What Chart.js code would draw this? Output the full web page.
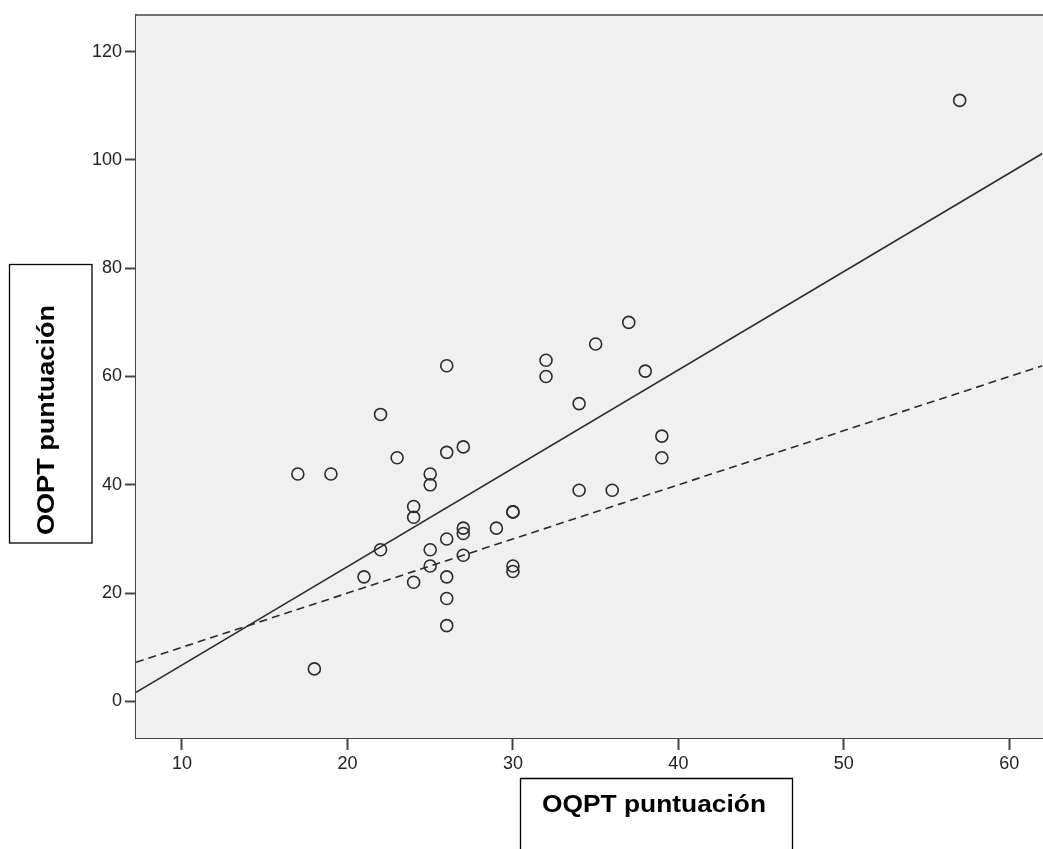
<!DOCTYPE html>
<html>
<head>
<meta charset="utf-8">
<script src="https://cdn.jsdelivr.net/npm/chart.js@4/dist/chart.umd.min.js"></script>
<style>
  html, body { margin: 0; padding: 0; background: #ffffff; overflow: hidden; }
  #wrap { position: relative; width: 1050px; height: 849px; }
</style>
</head>
<body>
<div id="wrap"><canvas id="c"></canvas></div>
<script>
// ---- data ----
const oqptScores = [17,19,22,23,26,26,27,25,25,24,24,22,21,18,24,25,25,26,26,26,26,27,27,27,29,30,30,30,30,32,32,34,34,35,37,38,36,39,39,57];
const ooptScores = [42,42,53,45,62,46,47,42,40,36,34,28,23,6,22,28,25,30,23,19,14,32,31,27,32,35,35,25,24,63,60,39,55,66,70,61,39,49,45,111];
// fitted regression line (solid) and identity reference line (dashed), end points
const fitLineX = [7.22, 62];
const fitLineY = [1.66, 101.2];
const refLineX = [7.22, 62];
const refLineY = [7.22, 62];
// axes
const xTicks = [10, 20, 30, 40, 50, 60];
const yTicks = [0, 20, 40, 60, 80, 100, 120];
const xRange = [7.22, 62];
const yRange = [-6.76, 126.77];
const xTitle = 'OQPT puntuación';
const yTitle = 'OOPT puntuación';

const toPts = (xs, ys) => xs.map((x, i) => ({ x: x, y: ys[i] }));

const INK = '#2b2b2b';

const decor = {
  id: 'decor',
  beforeDatasetsDraw(chart) {
    const { ctx, chartArea: a } = chart;
    ctx.save();
    ctx.fillStyle = '#f0f0f0';
    ctx.fillRect(a.left, a.top, a.right - a.left + 10, a.bottom - a.top);
    ctx.restore();
  },
  afterDraw(chart) {
    const { ctx, chartArea: a } = chart;
    ctx.save();
    // top frame line
    ctx.strokeStyle = '#444444';
    ctx.lineWidth = 1.6;
    ctx.beginPath();
    ctx.moveTo(a.left, a.top);
    ctx.lineTo(chart.width + 5, a.top);
    ctx.stroke();

    // boxed axis titles
    ctx.strokeStyle = '#000000';
    ctx.lineWidth = 1.3;
    ctx.fillStyle = '#000000';
    ctx.font = 'bold 24px "Liberation Sans", Arial, sans-serif';
    ctx.textBaseline = 'alphabetic';
    ctx.textAlign = 'center';

    // y title box
    ctx.strokeRect(9.5, 264.5, 82.5, 278.5);
    let w = ctx.measureText(yTitle).width;
    ctx.save();
    ctx.translate(54, 420);
    ctx.rotate(-Math.PI / 2);
    ctx.scale(230 / w, 1);
    ctx.fillText(yTitle, 0, 0);
    ctx.restore();

    // x title box (open at bottom)
    ctx.beginPath();
    ctx.moveTo(520.5, 852);
    ctx.lineTo(520.5, 778.5);
    ctx.lineTo(792.5, 778.5);
    ctx.lineTo(792.5, 852);
    ctx.stroke();
    w = ctx.measureText(xTitle).width;
    ctx.save();
    ctx.translate(654, 811.5);
    ctx.scale(224 / w, 1);
    ctx.fillText(xTitle, 0, 0);
    ctx.restore();

    ctx.restore();
  }
};

new Chart(document.getElementById('c'), {
  type: 'scatter',
  data: {
    datasets: [
      {
        label: 'puntos',
        data: toPts(oqptScores, ooptScores),
        pointStyle: 'circle',
        pointRadius: 6,
        pointHoverRadius: 6,
        pointBorderWidth: 1.6,
        borderColor: INK,
        backgroundColor: 'rgba(0,0,0,0)',
        order: 1
      },
      {
        label: 'ajuste',
        type: 'line',
        data: toPts(fitLineX, fitLineY),
        borderColor: INK,
        borderWidth: 1.6,
        pointRadius: 0,
        fill: false,
        order: 2
      },
      {
        label: 'referencia',
        type: 'line',
        data: toPts(refLineX, refLineY),
        borderColor: INK,
        borderWidth: 1.6,
        borderDash: [8, 5],
        pointRadius: 0,
        fill: false,
        order: 3
      }
    ]
  },
  options: {
    responsive: true,
    maintainAspectRatio: false,
    animation: false,
    events: [],
    layout: { padding: { left: 0, right: 0, top: 15, bottom: 0 } },
    plugins: { legend: { display: false }, tooltip: { enabled: false } },
    scales: {
      x: {
        type: 'linear',
        min: xRange[0],
        max: xRange[1],
        afterBuildTicks: (s) => { s.ticks = xTicks.map(v => ({ value: v })); },
        afterFit: (s) => { s.height = 111; s.paddingLeft = 0; s.paddingRight = 0; },
        ticks: {
          autoSkip: false,
          maxRotation: 0,
          padding: 3,
          color: '#222222',
          font: { family: '"Liberation Sans", Arial, sans-serif', size: 18 }
        },
        grid: { drawOnChartArea: false, drawTicks: true, tickLength: 12, tickWidth: 2, color: '#444444' },
        border: { display: true, color: '#444444', width: 2 }
      },
      y: {
        type: 'linear',
        min: yRange[0],
        max: yRange[1],
        afterBuildTicks: (s) => { s.ticks = yTicks.map(v => ({ value: v })); },
        afterFit: (s) => { s.width = 136; s.paddingTop = 0; s.paddingBottom = 0; },
        ticks: {
          autoSkip: false,
          padding: 3,
          color: '#222222',
          font: { family: '"Liberation Sans", Arial, sans-serif', size: 18 }
        },
        grid: { drawOnChartArea: false, drawTicks: true, tickLength: 11, tickWidth: 2, color: '#444444' },
        border: { display: true, color: '#444444', width: 2 }
      }
    }
  },
  plugins: [decor]
});
</script>
</body>
</html>
